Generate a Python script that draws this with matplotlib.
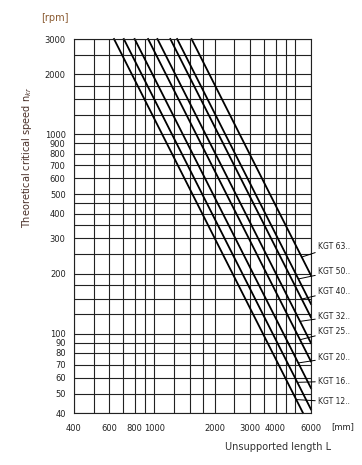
import matplotlib.pyplot as plt

# screw sizes and where each line enters (top, 3000 rpm) and leaves the chart
sizes = ['12', '16', '20', '25', '32', '40', '50', '63']
L_top = [632, 707, 800, 933, 1038, 1203, 1300, 1533]
L_end = [5477, 6000, 6000, 6000, 6000, 6000, 6000, 6000]
n_end = [40, 41.7, 53.3, 72.5, 89.7, 120.6, 140.8, 195.8]

# leader targets on each line, and label heights
lead_L = [5097, 5133, 5193, 5292, 5292, 5396, 5193, 5396]
lead_n = [46.7, 57, 71.3, 93.2, 115.2, 149, 188, 242]
label_n = [45.5, 57.7, 76, 103, 122, 163, 205, 274]

x_labels = [400, 600, 800, 1000, 2000, 3000, 4000, 6000]
x_grid = [500, 700, 900, 1250, 1500, 1750, 2500, 3500, 4500, 5000]
y_labels = [40, 50, 60, 70, 80, 90, 100, 200, 300, 400, 500, 600, 700, 800, 900, 1000, 2000, 3000]
y_grid = [125, 150, 175, 250, 350, 450, 1250, 1500, 1750, 2500]

fig = plt.figure(figsize=(3.62, 4.65), dpi=100)
ax = fig.add_axes([0.2044, 0.1118, 0.6547, 0.8043])
ax.set_xscale('log')
ax.set_yscale('log')
ax.set_xlim(400, 6000)
ax.set_ylim(40, 3000)

ax.set_xticks(x_labels)
ax.set_xticklabels([str(v) for v in x_labels])
ax.set_xticks(x_grid, minor=True)
ax.set_yticks(y_labels)
ax.set_yticklabels([str(v) for v in y_labels])
ax.set_yticks(y_grid, minor=True)
ax.xaxis.set_minor_formatter(plt.NullFormatter())
ax.yaxis.set_minor_formatter(plt.NullFormatter())
ax.tick_params(which='both', length=0, labelsize=6, colors='#222222')
ax.tick_params(axis='x', pad=8)
ax.tick_params(axis='y', pad=6)
ax.grid(True, which='both', color='#222222', linewidth=0.8)
for s in ax.spines.values():
    s.set_color('#222222')
    s.set_linewidth(0.8)

for i in range(len(sizes)):
    ax.plot([L_top[i], L_end[i]], [3000, n_end[i]], color='black', linewidth=1.3, clip_on=False)
    ax.annotate('KGT ' + sizes[i] + '..', xy=(lead_L[i], lead_n[i]), xytext=(6500, label_n[i]),
                fontsize=5.5, color='#222222', va='center', ha='left',
                arrowprops=dict(arrowstyle='-', color='black', lw=0.7,
                                shrinkA=0, shrinkB=0),
                annotation_clip=False)

fig.text(0.074, 0.662, 'Theoretical critical speed n$_{kr}$', rotation=90,
         ha='center', va='center', fontsize=7, color='#4a3028')
fig.text(0.152, 0.961, '[rpm]', ha='center', va='center', fontsize=7, color='#8a5a30')
fig.text(0.948, 0.082, '[mm]', ha='center', va='center', fontsize=6, color='#222222')
fig.text(0.768, 0.039, 'Unsupported length L', ha='center', va='center', fontsize=7, color='#333333')

plt.savefig('out.png', dpi=100)
